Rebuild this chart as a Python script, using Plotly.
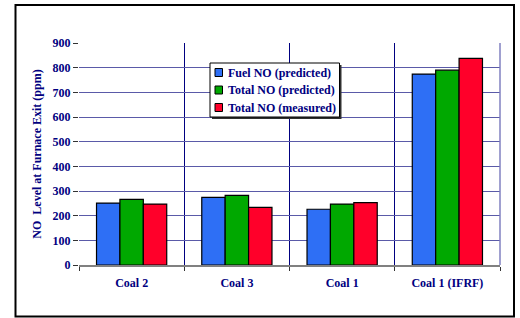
import plotly.graph_objects as go

categories = ["Coal 2", "Coal 3", "Coal 1", "Coal 1 (IFRF)"]
fuel_no_pred = [251, 274, 226, 774]
total_no_pred = [266, 282, 247, 790]
total_no_meas = [247, 234, 253, 838]
y_ticks = [0, 100, 200, 300, 400, 500, 600, 700, 800, 900]
series_names = ["Fuel NO (predicted)", "Total NO (predicted)", "Total NO (measured)"]
series_colors = ["#2E6FF5", "#00A800", "#FF002A"]

navy = "#000080"
font_family = "Liberation Serif"

# plot area in pixels: left 79, right 500, top 43, bottom 265
L, R, T, B = 79, 500, 43, 265
W, H = R - L, B - T
def px(x):
    return (x - L) / W
def py(y):
    return (B - y) / H

fig = go.Figure()
for name, vals, col in zip(series_names, [fuel_no_pred, total_no_pred, total_no_meas], series_colors):
    fig.add_trace(go.Bar(
        x=categories, y=vals, name=name, showlegend=False,
        marker=dict(color=col, line=dict(color="black", width=1.2)),
    ))

shapes = [
    # outer frame
    dict(type="rect", xref="paper", yref="paper",
         x0=px(15.5), x1=px(514), y0=py(316.5), y1=py(5),
         line=dict(color="black", width=2), layer="below"),
    # right edge line of plot area
    dict(type="line", xref="paper", yref="paper", x0=1, x1=1, y0=0, y1=1,
         line=dict(color="#8080C0", width=1.5)),
    # legend shadow
    dict(type="rect", xref="paper", yref="paper",
         x0=px(212), x1=px(341.5), y0=py(119), y1=py(65),
         line=dict(width=0), fillcolor="#303030", layer="above"),
    # legend box
    dict(type="rect", xref="paper", yref="paper",
         x0=px(210), x1=px(339.5), y0=py(117), y1=py(63),
         line=dict(color="black", width=1), fillcolor="white", layer="above"),
]
annotations = []
row_y = [72.5, 90, 107.5]
for name, col, yy in zip(series_names, series_colors, row_y):
    shapes.append(dict(type="rect", xref="paper", yref="paper",
                       x0=px(215), x1=px(222.5), y0=py(yy + 4), y1=py(yy - 4),
                       line=dict(color="black", width=1), fillcolor=col, layer="above"))
    annotations.append(dict(xref="paper", yref="paper", x=px(225.5), y=py(yy),
                            xanchor="left", yanchor="middle", showarrow=False,
                            text=name,
                            font=dict(family=font_family, color=navy, size=12, weight="bold")))

fig.update_layout(
    width=520, height=318,
    margin=dict(l=L, r=520 - R, t=T, b=318 - B, autoexpand=False),
    paper_bgcolor="white", plot_bgcolor="white",
    barmode="group", bargap=0.333, bargroupgap=0,
    font=dict(family=font_family, color=navy, size=12),
    showlegend=False,
    xaxis=dict(
        type="category", tickson="boundaries", automargin=False,
        showgrid=True, gridcolor=navy, gridwidth=1,
        ticks="outside", ticklen=4, tickcolor="#333333",
        ticklabelstandoff=6,
        showline=True, linecolor="#808080", linewidth=2,
        tickfont=dict(family=font_family, color=navy, size=12, weight="bold"),
    ),
    yaxis=dict(
        range=[0, 900], tickvals=y_ticks, automargin=False,
        showgrid=True, gridcolor="#5A5AA8", gridwidth=1.3,
        ticks="outside", ticklen=5, tickcolor="#333333",
        showline=False, zeroline=False,
        tickfont=dict(family=font_family, color=navy, size=12, weight="bold"),
        title=dict(text="NO  Level at Furnace Exit (ppm)",
                   font=dict(family=font_family, color=navy, size=12, weight="bold"),
                   standoff=8),
    ),
    shapes=shapes,
    annotations=annotations,
)

fig.write_html("out.html", config={"displayModeBar": False},
               post_script="document.body.style.margin='0';")
